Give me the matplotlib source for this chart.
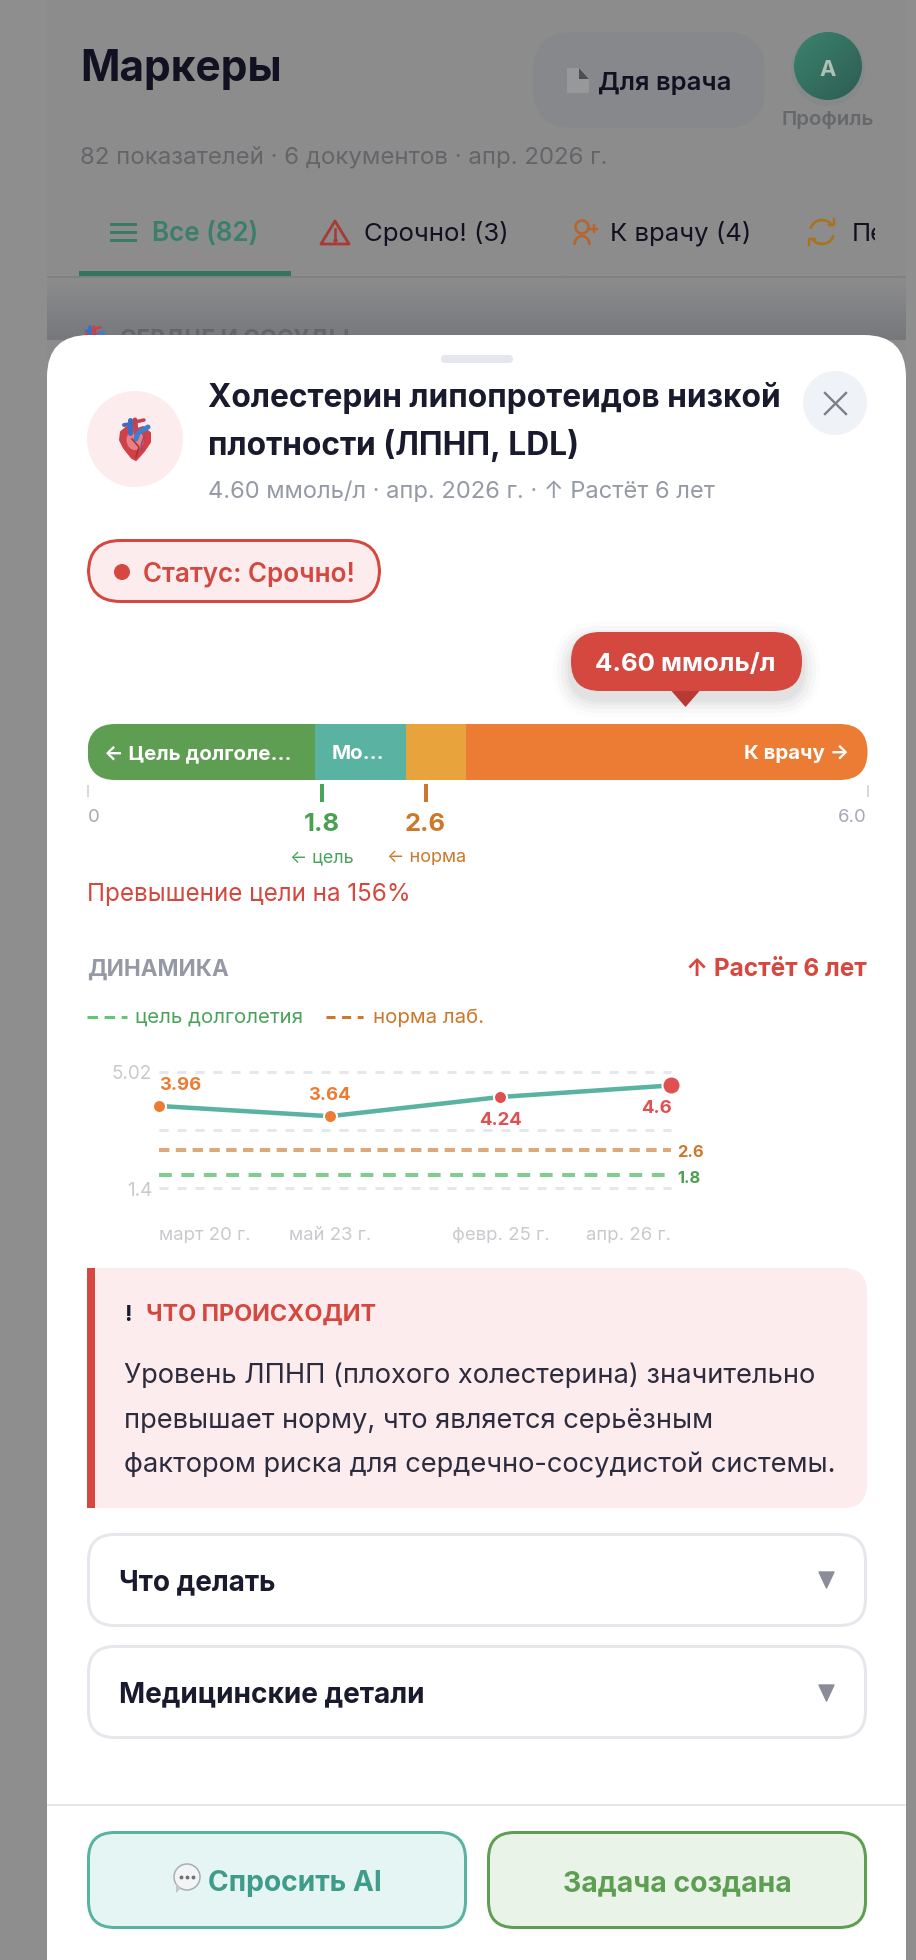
import numpy as np
import matplotlib
matplotlib.use("Agg")
import matplotlib.pyplot as plt
from matplotlib.colors import LinearSegmentedColormap
from matplotlib.patches import FancyBboxPatch, Rectangle, Circle, Polygon, Arc, Ellipse

plt.rcParams['font.family'] = ['Inter', 'DejaVu Sans']

W, H = 916, 1960

# range bar
range_min = 0
range_max = 6.0
segment_edges = [0, 1.75, 2.45, 2.91, 6.0]
segment_colors = ['#5d9e52', '#5ab3a2', '#e8a33d', '#ec7c34']
goal_value = 1.8
norm_value = 2.6
current_value = 4.60

# trend chart
trend_labels = ['март 20 г.', 'май 23 г.', 'февр. 25 г.', 'апр. 26 г.']
trend_values = [3.96, 3.64, 4.24, 4.6]
trend_text = ['3.96', '3.64', '4.24', '4.6']
trend_colors = ['#ec7c34', '#ec7c34', '#e05050', '#e05050']
grid_values = [5.02, 3.21, 1.4]
y_tick_labels = ['5.02', '1.4']

RED = '#d5483f'
PINK = '#fdecee'
DARK = '#1a1a2e'
TEAL = '#5ab3a2'
GREEN = '#5d9e52'
BORDER = '#e6e7ec'

fig = plt.figure(figsize=(W / 100, H / 100), dpi=100, facecolor='#8e8e8e')
ui = fig.add_axes([0, 0, 1, 1])
ui.set_xlim(0, W)
ui.set_ylim(H, 0)
ui.axis('off')


def px(v):
    return v * 0.72


def txt(x, y, s, size, color, weight='normal', ha='left', z=5, **kw):
    return ui.text(x, y, s, fontsize=px(size), color=color, fontweight=weight,
                   ha=ha, va='baseline', zorder=z, **kw)


def box(x0, y0, x1, y1, r, fc, ec='none', lw=0, z=2, alpha=None):
    # stroke stays inside the given outer edge, like css borders
    d = lw / 2
    p = FancyBboxPatch((x0 + d, y0 + d), x1 - x0 - lw, y1 - y0 - lw,
                       boxstyle=f'round,pad=0,rounding_size={r}',
                       fc=fc, ec=ec, lw=px(lw), zorder=z, alpha=alpha,
                       transform=ui.transData)
    ui.add_patch(p)
    return p


def heart(cx, cy, s, z=4):
    # small anatomical heart instead of the emoji
    def P(a, b):
        return (cx + a * s, cy + b * s)
    ui.add_patch(Polygon([P(-14, -7), P(-8, -12), P(0, -9), P(8, -12), P(15, -6), P(15, 3), P(9, 12),
                          P(1, 21), P(-3, 19), P(-11, 9), P(-15, 1)],
                         closed=True, fc='#cf4048', ec='#cf4048', lw=px(2 * s), zorder=z, joinstyle='round'))
    ui.add_patch(Ellipse(P(0, 1), 17 * s, 20 * s, fc='#e97f86', ec='none', zorder=z + 0.1))
    w = px(5 * s)
    ui.plot([P(-5, -6)[0], P(-5, -19)[0]], [P(-5, -6)[1], P(-5, -19)[1]], color='#3a6fc4', lw=w, zorder=z + 0.3, solid_capstyle='round')
    ui.plot([P(-11, -14)[0], P(-4, -15)[0]], [P(-11, -14)[1], P(-4, -15)[1]], color='#3a6fc4', lw=w * 0.8, zorder=z + 0.3, solid_capstyle='round')
    ui.plot([P(0, -19)[0], P(1, -6)[0]], [P(0, -19)[1], P(1, -6)[1]], color='#c8404a', lw=w, zorder=z + 0.2, solid_capstyle='round')
    ui.plot([P(0, -17)[0], P(9, -19)[0]], [P(0, -17)[1], P(9, -19)[1]], color='#c8404a', lw=w * 0.7, zorder=z + 0.2, solid_capstyle='round')
    ui.plot([P(1, 0)[0], P(3, -6)[0], P(13, -12)[0]], [P(1, 0)[1], P(3, -6)[1], P(13, -12)[1]], color='#3a7fd0', lw=w, zorder=z + 0.4, solid_capstyle='round')
    ui.plot([P(-3, 0)[0], P(4, 8)[0], P(1, 18)[0]], [P(-3, 0)[1], P(4, 8)[1], P(1, 18)[1]], color='#a8323a', lw=px(1.6 * s), zorder=z + 0.5)
    ui.plot([P(9, -2)[0], P(6, 6)[0], P(7, 11)[0]], [P(9, -2)[1], P(6, 6)[1], P(7, 11)[1]], color='#8a4a70', lw=px(1.4 * s), zorder=z + 0.5)


# page behind the sheet
ui.add_patch(Rectangle((47, 0), 859, H, fc='#8c8c8d', ec='none', zorder=0))
shade = np.linspace(0, 1, 40).reshape(-1, 1)
cm = LinearSegmentedColormap.from_list('s', ['#8c8c8d', '#76787c'])
ui.imshow(shade, extent=(47, 906, 340, 278), cmap=cm, aspect='auto', zorder=0.5)
ui.set_xlim(0, W)
ui.set_ylim(H, 0)

txt(80, 81, 'Маркеры', 42.4, '#111122', 'bold', z=1)
box(533, 32, 765, 128, 40, '#86888b', z=1)
ui.add_patch(Polygon([(567, 68), (580, 68), (589, 78), (589, 93), (567, 93)], fc='#96989a', ec='none', zorder=1))
ui.add_patch(Polygon([(579, 68), (589, 79), (579, 79)], fc='#4c4e50', ec='none', zorder=1.1))
txt(598, 90, 'Для врача', 25.6, '#111122', 'semibold', z=1)
# avatar with a slight diagonal gradient
ui.add_patch(Circle((828, 69), 37, fc='#7f8786', ec='none', zorder=0.9, alpha=0.5))
grad = np.add.outer(np.linspace(0, 1, 40), np.linspace(0, 1, 40)) / 2
cm2 = LinearSegmentedColormap.from_list('a', ['#3a836c', '#2e5c54'])
im = ui.imshow(grad, extent=(794, 862, 100, 32), cmap=cm2, aspect='auto', zorder=1)
im.set_clip_path(Circle((828, 66), 34, transform=ui.transData))
ui.set_xlim(0, W)
ui.set_ylim(H, 0)
txt(828, 76, 'А', 22, '#aebfb8', 'bold', ha='center', z=1.2)
txt(828, 125, 'Профиль', 20.5, '#66686b', 'semibold', ha='center', z=1)
txt(80, 163, '82 показателей · 6 документов · апр. 2026 г.', 24, '#636568', z=1)

# tabs
for yy in (224, 232, 240):
    ui.plot([111, 135], [yy, yy], color='#3b7a67', lw=px(3), zorder=1)
txt(152, 241, 'Все (82)', 26, '#3b7f6b', 'semibold', z=1)
ui.add_patch(Polygon([(335, 221), (349, 244), (321, 244)], closed=True, fc='none', ec='#a83a36', lw=px(2.8), zorder=1, joinstyle='round'))
ui.plot([335, 335], [229, 237], color='#a83a36', lw=px(2.6), zorder=1)
ui.plot([335], [240.5], 'o', ms=px(3), color='#a83a36', zorder=1)
txt(364, 241, 'Срочно! (3)', 25.8, '#111122', z=1)
ui.add_patch(Circle((582, 227), 6.5, fc='none', ec='#b8642a', lw=px(2.6), zorder=1))
ui.add_patch(Arc((582, 245), 15, 18, theta1=180, theta2=360, ec='#b8642a', lw=px(2.6), zorder=1))
ui.plot([590, 597], [229, 229], color='#b8642a', lw=px(2.4), zorder=1)
ui.plot([593.5, 593.5], [225.5, 232.5], color='#b8642a', lw=px(2.4), zorder=1)
txt(610, 241, 'К врачу (4)', 25.7, '#111122', z=1)
ui.add_patch(Arc((822, 232), 24, 24, theta1=195, theta2=330, ec='#a9721f', lw=px(2.6), zorder=1))
ui.add_patch(Arc((822, 232), 24, 24, theta1=15, theta2=150, ec='#a9721f', lw=px(2.6), zorder=1))
ui.plot([829, 834, 834], [225, 225, 219], color='#a9721f', lw=px(2.4), zorder=1)
ui.plot([809, 809, 815], [245, 239, 239], color='#a9721f', lw=px(2.4), zorder=1)
t = txt(852, 241, 'Пе', 25.8, '#111122', z=1)
t.set_clip_on(True)
t.set_clip_path(Rectangle((840, 210), 35, 50, transform=ui.transData))
ui.add_patch(Rectangle((79, 271), 212, 5, fc='#35745f', ec='none', zorder=1))
ui.plot([47, 906], [277, 277], color='#7f8183', lw=px(2), zorder=0.8, solid_capstyle='butt')

heart(94, 341, 0.72, z=0.9)
txt(120, 346, 'СЕРДЦЕ И СОСУДЫ', 22.5, '#636569', 'bold', z=0.9)

# sheet
ui.add_patch(FancyBboxPatch((47, 335), 859, H, boxstyle='round,pad=0,rounding_size=42', fc='white', ec='none', zorder=1.5))
box(441, 355, 513, 363, 4, BORDER)

ui.add_patch(Circle((135, 439), 48, fc=PINK, ec='none', zorder=2))
heart(135, 439, 1.0)
ui.add_patch(Circle((835, 403), 32, fc='#eff3f8', ec='none', zorder=2))
ui.plot([825, 846], [393, 414], color='#7d8088', lw=px(2.4), zorder=3)
ui.plot([846, 825], [393, 414], color='#7d8088', lw=px(2.4), zorder=3)
txt(208, 407, 'Холестерин липопротеидов низкой', 31.7, DARK, 'bold')
txt(208, 455, 'плотности (ЛПНП, LDL)', 31.7, DARK, 'bold')
txt(208, 498, '4.60 ммоль/л · апр. 2026 г. · ↑ Растёт 6 лет', 23.7, '#9699a6')

box(87, 539, 381, 603, 32, PINK, RED, 3)
ui.add_patch(Circle((122, 572), 8, fc=RED, ec='none', zorder=3))
txt(143, 581, 'Статус: Срочно!', 26, RED, 'semibold')

# tooltip with soft shadow
for grow, a in zip((18, 14, 10, 6, 3), (0.012, 0.018, 0.022, 0.028, 0.03)):
    box(571 - grow, 632 + 8 - grow, 802 + grow, 691 + 8 + grow, 29 + grow, 'black', z=2.1, alpha=a)
box(571, 632, 802, 691, 29, RED, z=3)

# range bar: own axes on the value scale
bar_left, bar_right, bar_top, bar_bottom = 87.5, 867.5, 724, 780
ax_bar = fig.add_axes([bar_left / W, 1 - bar_bottom / H, (bar_right - bar_left) / W, (bar_bottom - bar_top) / H])
ax_bar.set_xlim(range_min, range_max)
ax_bar.set_ylim(0, 1)
ax_bar.axis('off')
clip = FancyBboxPatch((bar_left, bar_top), bar_right - bar_left, bar_bottom - bar_top,
                      boxstyle='round,pad=0,rounding_size=28', transform=ui.transData)
bars = ax_bar.barh(0.5, np.diff(segment_edges), left=segment_edges[:-1], height=1,
                   color=segment_colors, edgecolor='none')
for b in bars:
    b.set_clip_path(clip)


def val_x(v):
    return bar_left + (v - range_min) / (range_max - range_min) * (bar_right - bar_left)


ui.set_zorder(1)
ax_bar.set_zorder(2)
ax_bar.patch.set_visible(False)

tip = val_x(current_value)
ui.add_patch(Polygon([(tip - 14, 691), (tip + 14, 691), (tip, 707)], fc='#b93a34', ec='none', zorder=3))
txt(tip, 671, '4.60 ммоль/л', 25.8, 'white', 'bold', ha='center')

over = fig.add_axes([0, 0, 1, 1], sharex=ui, sharey=ui)
over.axis('off')
over.set_zorder(3)
over.text(104, 759, '← Цель долголе...', fontsize=px(20.5), color='white', fontweight='bold', va='baseline')
over.text(332, 759, 'Мо...', fontsize=px(20.5), color='white', fontweight='bold', va='baseline')
over.text(849, 759, 'К врачу →', fontsize=px(20.5), color='white', fontweight='bold', va='baseline', ha='right')

for v in (range_min, range_max):
    ui.plot([val_x(v)] * 2, [786, 796], color='#d8d9de', lw=px(2), zorder=3)
ui.plot([val_x(goal_value)] * 2, [786, 800], color='#4aa35a', lw=px(4), zorder=3)
ui.plot([val_x(norm_value)] * 2, [786, 800], color='#cc7729', lw=px(4), zorder=3)
txt(88, 822, '0', 18.5, '#a5a8b4')
txt(867, 822, '6.0', 18.5, '#a5a8b4', ha='right')
txt(val_x(goal_value), 831, '1.8', 25.5, '#4aa050', 'bold', ha='center')
txt(val_x(norm_value), 831, '2.6', 25.5, '#cc7729', 'bold', ha='center')
txt(290, 862, '← цель', 18, '#4aa35a')
txt(387, 862, '← норма', 18.2, '#cc7729')
txt(87, 901, 'Превышение цели на 156%', 24.2, RED)

txt(87, 976, 'ДИНАМИКА', 22.5, '#9698a6', 'bold')
txt(867, 976, '↑ Растёт 6 лет', 24.4, RED, 'bold', ha='right')

# legend
ui.plot([87, 127], [1017, 1017], color='#5fc878', lw=px(3), ls=(0, (3.5, 2.2)), zorder=3)
txt(135, 1023, 'цель долголетия', 20.4, '#4aa35a')
ui.plot([326, 363], [1017, 1017], color='#cc7729', lw=px(3), ls=(0, (3, 2.2)), zorder=3)
txt(373, 1023, 'норма лаб.', 20.4, '#cc7729')

# trend chart
ch_left, ch_right, ch_top, ch_bottom = 159, 671, 1072, 1188
ax = fig.add_axes([ch_left / W, 1 - ch_bottom / H, (ch_right - ch_left) / W, (ch_bottom - ch_top) / H])
ax.set_xlim(0, len(trend_values) - 1)
ax.set_ylim(grid_values[-1], grid_values[0])
ax.axis('off')
ax.set_zorder(4)
ax.patch.set_visible(False)
xs = np.arange(len(trend_values))
for g in grid_values:
    ax.plot(xs[[0, -1]], [g, g], color=BORDER, lw=px(3), ls=(0, (3, 3)), clip_on=False)
ax.plot(xs[[0, -1]], [norm_value, norm_value], color='#dfa878', lw=px(4), ls=(0, (2.6, 1.6)), clip_on=False)
ax.plot(xs[[0, -1]], [goal_value, goal_value], color='#7fce8f', lw=px(4), ls=(0, (3.2, 2.4)), clip_on=False)
ax.plot(xs, trend_values, color=TEAL, lw=px(4.5), clip_on=False, zorder=3)
sizes = [13, 13, 13, 18]
for x, v, c, s in zip(xs, trend_values, trend_colors, sizes):
    ax.plot([x], [v], 'o', ms=px(s), mfc=c, mec='white', mew=px(2), clip_on=False, zorder=4)

lab_x = [159, 329, 500, 656]
lab_y = [1090, 1100, 1125, 1113]
for lx, ly, s, c in zip(lab_x, lab_y, trend_text, trend_colors):
    txt(lx, ly, s, 18.5, c, 'bold', ha='left' if lx == 159 else 'center')
txt(677, 1157, '2.6', 16.5, '#cc7729', 'bold')
txt(677, 1183, '1.8', 16.5, '#4aa050', 'bold')
txt(152, 1079, y_tick_labels[0], 18.8, '#c9cace', ha='right')
txt(152, 1196, y_tick_labels[1], 18.8, '#c9cace', ha='right')
for i, s in enumerate(trend_labels):
    ha = 'left' if i == 0 else ('right' if i == len(trend_labels) - 1 else 'center')
    txt(ch_left + (ch_right - ch_left) * i / 3, 1240, s, 18.5, '#c9cace', ha=ha)

# alert box
box(87, 1268, 867, 1508, 24, PINK)
ui.add_patch(Rectangle((87, 1268), 40, 240, fc=PINK, ec='none', zorder=2.1))
ui.add_patch(Rectangle((87, 1268), 8, 240, fc=RED, ec='none', zorder=2.2))
txt(128, 1321, '!', 22, DARK, 'bold', ha='center')
txt(146, 1321, 'ЧТО ПРОИСХОДИТ', 23.4, RED, 'bold')
body = ['Уровень ЛПНП (плохого холестерина) значительно',
        'превышает норму, что является серьёзным',
        'фактором риска для сердечно-сосудистой системы.']
for yy, line in zip((1383, 1427, 1472), body):
    txt(124, yy, line, 27.3, '#2c2c3e')

# accordions
box(87, 1533, 867, 1627, 26, 'white', BORDER, 3)
box(87, 1645, 867, 1739, 26, 'white', BORDER, 3)
txt(119, 1590, 'Что делать', 27.9, DARK, 'bold')
txt(119, 1702, 'Медицинские детали', 28, DARK, 'bold')
for yy in (1572, 1685):
    ui.add_patch(Polygon([(819, yy), (834, yy), (826.5, yy + 16)], fc='#8a8c99', ec='#8a8c99', lw=1, joinstyle='round', zorder=3))

ui.plot([47, 906], [1805, 1805], color=BORDER, lw=px(2), zorder=2, solid_capstyle='butt')

# bottom buttons
box(87, 1831, 467, 1929, 26, '#e5f5f3', TEAL, 3)
box(487, 1831, 867, 1929, 26, '#e9f3e7', GREEN, 3)
ui.add_patch(Circle((187, 1877), 13, fc='#f2f4f5', ec='#a9adb0', lw=px(1.5), zorder=3))
ui.add_patch(Polygon([(176, 1884), (181, 1888), (176, 1893)], fc='#c4c7c9', ec='none', zorder=3))
ui.plot([181, 187, 193], [1877] * 3, 'o', ms=px(2.5), color='#6f7377', zorder=4)
txt(208, 1891, 'Спросить AI', 28.2, '#3f9c8a', 'bold')
txt(677, 1891, 'Задача создана', 28.3, GREEN, 'bold', ha='center')

fig.savefig('out.png', dpi=100, facecolor=fig.get_facecolor())
